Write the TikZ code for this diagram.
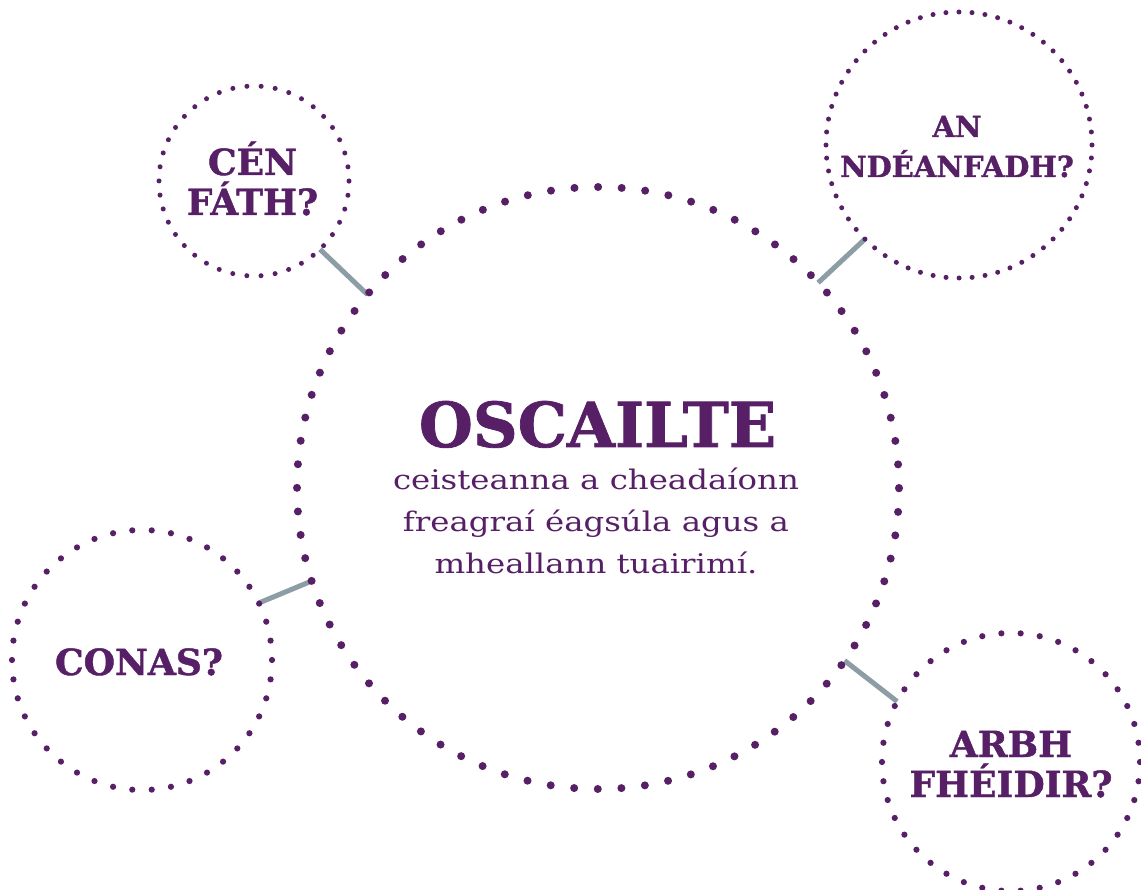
\documentclass[tikz,border=0pt]{standalone}
\usepackage{fontspec}
\setmainfont{DejaVu Serif}
\newfontfamily\subfont[FakeStretch=1.2]{DejaVu Serif}
\newfontfamily\headfont[FakeBold=1.2]{DejaVu Serif Bold}
\usetikzlibrary{backgrounds}
\definecolor{plum}{HTML}{561F66}
\definecolor{linkgrey}{HTML}{8C9DA6}
\begin{document}
\begin{tikzpicture}[x=1pt,y=-1pt,
  ring/.style={circle, draw=plum, outer sep=0pt, inner sep=0pt, line cap=round},
  head/.style={text=plum, font=\headfont\fontsize{36}{40}\selectfont, align=center, anchor=base, inner sep=0pt},
  connector/.style={draw=linkgrey, line width=5pt}]
\clip (0,0) rectangle (1141,890);
% circles
\node[ring, minimum size=602pt, line width=8pt, dash pattern=on 0pt off 23.64pt] (big) at (598,488) {};
\node[ring, minimum size=190pt, line width=5pt, dash pattern=on 0pt off 14.21pt] (why) at (254,181) {};
\node[ring, minimum size=266pt, line width=5pt, dash pattern=on 0pt off 13.06pt] (would) at (959,145) {};
\node[ring, minimum size=260pt, line width=6.2pt, dash pattern=on 0pt off 19.45pt] (how) at (142,660) {};
\node[ring, minimum size=258pt, line width=6.2pt, dash pattern=on 0pt off 19.30pt] (can) at (1011,762) {};
% texts (base anchor = baseline of the last line)
\node[head] (whyt) at (252.5,215) {CÉN\\FÁTH?};
\node[head, font=\headfont\fontsize{29}{40}\selectfont] (wouldt) at (957,177) {AN\\NDÉANFADH?};
\node[head] (howt) at (139,675) {CONAS?};
\node[head] (cant) at (1011,797) {ARBH\\FHÉIDIR?};
\node[head, font=\headfont\fontsize{62}{70}\selectfont] (title) at (597.5,447) {OSCAILTE};
\node[text=plum, font=\subfont\fontsize{27}{41.7}\selectfont, align=center, anchor=base, inner sep=0pt] (sub) at (596,573)
  {ceisteanna a cheadaíonn\\freagraí éagsúla agus a\\mheallann tuairimí.};
% connectors
\begin{pgfonlayer}{background}
\fill[white] (0,0) rectangle (1141,890);
\draw[connector] (why.314.6) -- (big.140);
\draw[connector] (would.225.6) -- (big.43.4);
\draw[connector] (how.26.6) -- (big.198);
\draw[connector] (big.325.8) -- (can.152.6);
\end{pgfonlayer}
\end{tikzpicture}
\end{document}
